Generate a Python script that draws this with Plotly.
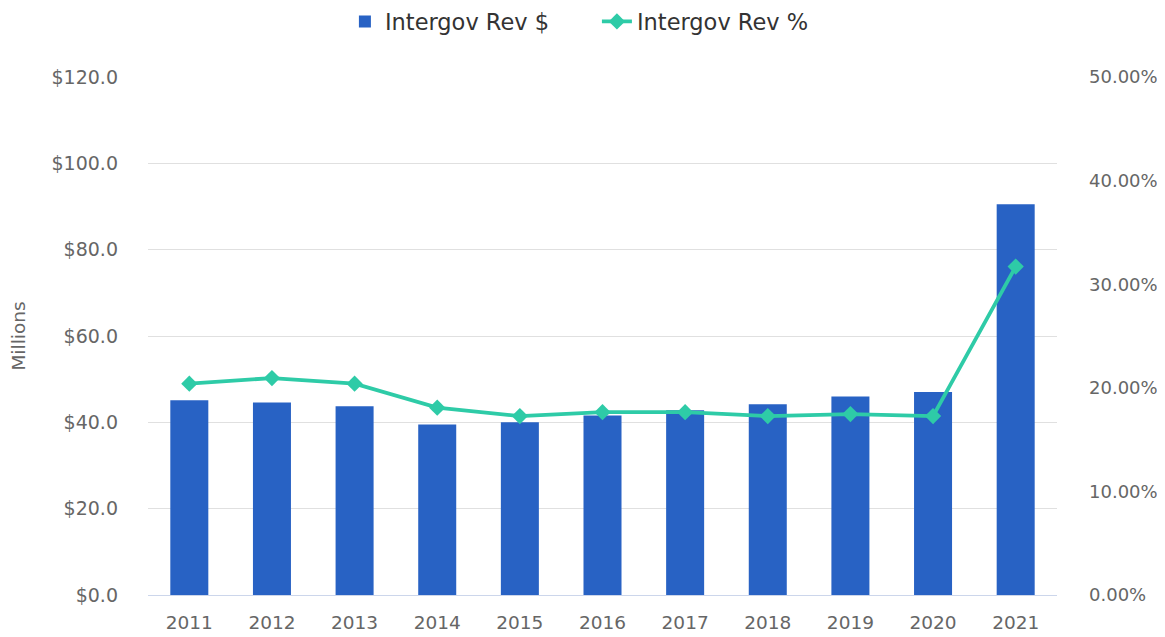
import plotly.graph_objects as go

years = ["2011", "2012", "2013", "2014", "2015", "2016", "2017", "2018", "2019", "2020", "2021"]
rev_dollars = [45.1, 44.6, 43.7, 39.5, 40.0, 41.6, 42.8, 44.2, 46.0, 47.0, 90.5]
rev_pct = [20.4, 20.94, 20.4, 18.08, 17.27, 17.65, 17.65, 17.27, 17.46, 17.27, 31.7]

left_ticks = [0, 20, 40, 60, 80, 100, 120]
left_labels = ["$0.0", "$20.0", "$40.0", "$60.0", "$80.0", "$100.0", "$120.0"]
right_ticks = [0, 10, 20, 30, 40, 50]
right_labels = ["0.00%", "10.00%", "20.00%", "30.00%", "40.00%", "50.00%"]

font_family = "DejaVu Sans"
tick_color = "#666666"

fig = go.Figure()
fig.add_trace(go.Bar(
    x=years, y=rev_dollars, name="Intergov Rev $",
    marker=dict(color="#2862C4", line=dict(width=0)),
    yaxis="y",
))
fig.add_trace(go.Scatter(
    x=years, y=rev_pct, name="Intergov Rev %",
    mode="lines+markers",
    line=dict(color="#2ECBA7", width=3.8),
    marker=dict(symbol="diamond", size=12.5, color="#2ECBA7"),
    yaxis="y2",
))

# page body has an 8px margin, so the figure is drawn 8px in from the window edge
fig.update_layout(
    width=1157, height=629,
    margin=dict(l=140, r=108, t=69, b=42, autoexpand=False),
    plot_bgcolor="white", paper_bgcolor="white",
    bargap=0.54,
    font=dict(family=font_family, color=tick_color),
    showlegend=True,
    legend=dict(
        orientation="h", xref="container", yref="container",
        x=0.509, y=0.978, xanchor="center", yanchor="middle",
        font=dict(size=22.5, color="#333333", family=font_family),
        entrywidth=207, entrywidthmode="pixels", traceorder="normal",
    ),
    xaxis=dict(
        type="category", range=[-0.5, len(years) - 0.5],
        showgrid=False, showline=True, linecolor="#ccd6eb", linewidth=1,
        ticks="", tickfont=dict(size=18.5, color=tick_color), ticklabelstandoff=11,
        automargin=False,
    ),
    yaxis=dict(
        range=[0, 120], tickvals=left_ticks, ticktext=left_labels,
        showgrid=True, gridcolor="#e0e0e0", gridwidth=1, zeroline=False,
        tickfont=dict(size=19, color=tick_color), ticklabelstandoff=29,
        title=dict(text="Millions", font=dict(size=18.5, color=tick_color), standoff=26),
        automargin=False,
    ),
    yaxis2=dict(
        range=[0, 50], tickvals=right_ticks, ticktext=right_labels,
        overlaying="y", side="right", showgrid=False, zeroline=False,
        tickfont=dict(size=18, color=tick_color), ticklabelstandoff=31,
        automargin=False,
    ),
)

fig.write_html("out.html")
